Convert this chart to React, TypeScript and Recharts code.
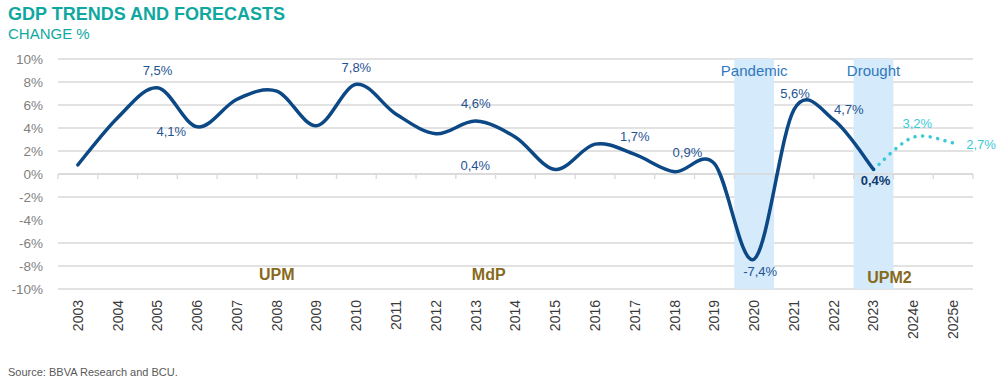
import React from "react";
import {
  LineChart,
  Line,
  XAxis,
  YAxis,
  CartesianGrid,
  ReferenceArea,
  ReferenceLine,
  ReferenceDot,
  LabelList,
} from "recharts";

const YEARS = [
  "2003", "2004", "2005", "2006", "2007", "2008", "2009", "2010", "2011", "2012",
  "2013", "2014", "2015", "2016", "2017", "2018", "2019", "2020", "2021", "2022",
  "2023", "2024e", "2025e",
];
const GDP = [
  0.8, 4.9, 7.5, 4.1, 6.5, 7.2, 4.2, 7.8, 5.2, 3.5,
  4.6, 3.2, 0.4, 2.6, 1.7, 0.2, 0.9, -7.4, 5.6, 4.7,
  0.4, null, null,
];
const FORECAST = [
  null, null, null, null, null, null, null, null, null, null,
  null, null, null, null, null, null, null, null, null, null,
  0.4, 3.2, 2.7,
];
const Y_TICKS = [-10, -8, -6, -4, -2, 0, 2, 4, 6, 8, 10];
const SHADED = [
  { year: "2020", name: "Pandemic" },
  { year: "2023", name: "Drought" },
];
const PERIODS = [
  { year: "2008", name: "UPM", y: -8.7, dx: 0 },
  { year: "2013", name: "MdP", y: -8.7, dx: 13 },
  { year: "2023", name: "UPM2", y: -9.0, dx: 16 },
];

// where each value label sits relative to its point
const LABEL_POS: Record<string, { dx: number; dy: number; bold?: boolean }> = {
  "2005": { dx: 0, dy: -17 },
  "2006": { dx: -26, dy: 5 },
  "2010": { dx: 0, dy: -17 },
  "2013": { dx: 0, dy: -18 },
  "2015": { dx: -80, dy: -4 },
  "2017": { dx: 0, dy: -18 },
  "2019": { dx: -27, dy: -11 },
  "2020": { dx: 6, dy: 12 },
  "2021": { dx: 1, dy: -16 },
  "2022": { dx: 15, dy: -11 },
  "2023": { dx: 2, dy: 11, bold: true },
};
const FC_LABEL_POS: Record<string, { dx: number; dy: number }> = {
  "2024e": { dx: 4, dy: -14 },
  "2025e": { dx: 28, dy: 1 },
};

const data = YEARS.map((year, i) => ({ year, gdp: GDP[i], forecast: FORECAST[i] }));

const NAVY = "#0c4885";
const LABEL_BLUE = "#1f5393";
const AQUA = "#3cc9d6";
const TEAL = "#0fa8a0";
const GOLD = "#876a1c";
const BAND = "#d5eafa";
const GRID = "#d9d9d9";
const FONT = "Arial, 'Liberation Sans', sans-serif";

// excel-like smoothed line (catmull-rom through the points)
const T = 1 / 6;
function excelSmooth(context: any) {
  let pts: number[][] = [];
  return {
    areaStart() {},
    areaEnd() {},
    lineStart() {
      pts = [];
    },
    point(x: number, y: number) {
      pts.push([+x, +y]);
    },
    lineEnd() {
      const n = pts.length;
      if (!n) return;
      context.moveTo(pts[0][0], pts[0][1]);
      for (let i = 0; i < n - 1; i++) {
        const p0 = pts[Math.max(i - 1, 0)];
        const p1 = pts[i];
        const p2 = pts[i + 1];
        const p3 = pts[Math.min(i + 2, n - 1)];
        context.bezierCurveTo(
          p1[0] + (p2[0] - p0[0]) * T,
          p1[1] + (p2[1] - p0[1]) * T,
          p2[0] - (p3[0] - p1[0]) * T,
          p2[1] - (p3[1] - p1[1]) * T,
          p2[0],
          p2[1]
        );
      }
    },
  };
}

const fmt = (v: number) => `${String(v).replace(".", ",")}%`;

const ValueLabel = (props: any) => {
  const { x, y, value, index } = props;
  const pos = LABEL_POS[YEARS[index]];
  if (!pos || value == null) return null;
  return (
    <text
      x={x + pos.dx}
      y={y + pos.dy}
      dy="0.35em"
      textAnchor="middle"
      fontSize={13}
      fontWeight={pos.bold ? 700 : 400}
      fill={pos.bold ? "#0f3a6e" : LABEL_BLUE}
      fontFamily={FONT}
    >
      {fmt(value)}
    </text>
  );
};

const ForecastLabel = (props: any) => {
  const { x, y, value, index } = props;
  const pos = FC_LABEL_POS[YEARS[index]];
  if (!pos || value == null) return null;
  return (
    <text x={x + pos.dx} y={y + pos.dy} dy="0.35em" textAnchor="middle" fontSize={13} fill={AQUA} fontFamily={FONT}>
      {fmt(value)}
    </text>
  );
};

const YearTick = (props: any) => {
  const { x, y, payload } = props;
  return (
    <text
      x={x}
      y={y}
      transform={`rotate(-90 ${x} ${y})`}
      textAnchor="end"
      dy="0.35em"
      fontSize={14}
      fill="#3a3a3a"
      fontFamily={FONT}
    >
      {payload.value}
    </text>
  );
};

// zero line with tick marks at category boundaries
const ZeroAxis = (props: any) => {
  const { x1, x2, y1 } = props;
  const step = (x2 - x1) / YEARS.length;
  return (
    <g>
      <line x1={x1} x2={x2} y1={y1} y2={y1} stroke={GRID} strokeWidth={1.5} />
      {YEARS.map((_, i) => (
        <line key={i} x1={x1 + step * i} x2={x1 + step * i} y1={y1} y2={y1 + 5} stroke={GRID} strokeWidth={1.3} />
      ))}
      <line x1={x2} x2={x2} y1={y1} y2={y1 + 5} stroke={GRID} strokeWidth={1.3} />
    </g>
  );
};

const AnnoLabel = (props: any) => {
  const { viewBox, text, color, size, bold, dx = 0 } = props;
  if (!viewBox) return null;
  return (
    <text
      x={viewBox.x + dx}
      y={viewBox.y}
      dy="0.35em"
      textAnchor="middle"
      fontSize={size}
      fontWeight={bold ? 700 : 400}
      fill={color}
      fontFamily={FONT}
    >
      {text}
    </text>
  );
};

export default function App() {
  return (
    <div style={{ position: "absolute", left: 0, top: 0, width: 1000, height: 382, background: "#fff", fontFamily: FONT }}>
      <div style={{ position: "absolute", left: 8, top: 5, fontSize: 18, lineHeight: "18px", fontWeight: 700, color: TEAL }}>
        GDP TRENDS AND FORECASTS
      </div>
      <div style={{ position: "absolute", left: 8, top: 26, fontSize: 15, lineHeight: "15px", color: TEAL }}>
        CHANGE %
      </div>
      <div style={{ position: "absolute", left: 8, top: 367, fontSize: 11, lineHeight: "11px", color: "#595959" }}>
        Source: BBVA Research and BCU.
      </div>
      <div style={{ position: "absolute", left: 0, top: 0 }}>
        <LineChart width={1000} height={382} data={data} margin={{ top: 59, right: 27, bottom: 33, left: 0 }}>
          <CartesianGrid vertical={false} stroke={GRID} strokeWidth={1.3} />
          {SHADED.map((s) => (
            <ReferenceArea key={s.year} x1={s.year} x2={s.year} fill={BAND} fillOpacity={1} stroke="none" />
          ))}
          <XAxis
            dataKey="year"
            scale="band"
            interval={0}
            tickLine={false}
            axisLine={false}
            tickSize={0}
            tickMargin={11}
            height={60}
            tick={<YearTick />}
          />
          <YAxis
            domain={[-10, 10]}
            ticks={Y_TICKS}
            tickFormatter={(v) => `${v}%`}
            tickLine={false}
            axisLine={false}
            tickSize={0}
            tickMargin={15}
            width={58}
            tick={{ fill: "#7f7f7f", fontSize: 13.5, fontFamily: FONT }}
          />
          <ReferenceLine y={0} shape={<ZeroAxis />} />
          {SHADED.map((s) => (
            <ReferenceDot
              key={"l" + s.year}
              x={s.year}
              y={8.95}
              r={0}
              fill="none"
              stroke="none"
              label={<AnnoLabel text={s.name} color="#2f78bd" size={15} />}
            />
          ))}
          {PERIODS.map((p) => (
            <ReferenceDot
              key={"p" + p.name}
              x={p.year}
              y={p.y}
              r={0}
              fill="none"
              stroke="none"
              label={<AnnoLabel text={p.name} color={GOLD} size={16} bold dx={p.dx} />}
            />
          ))}
          <Line
            dataKey="forecast"
            type={excelSmooth as any}
            stroke={AQUA}
            strokeWidth={3.5}
            strokeDasharray="0.1 7.5"
            strokeLinecap="round"
            dot={false}
            activeDot={false}
            isAnimationActive={false}
          >
            <LabelList dataKey="forecast" content={<ForecastLabel />} />
          </Line>
          <Line
            dataKey="gdp"
            type={excelSmooth as any}
            stroke={NAVY}
            strokeWidth={3.5}
            strokeLinecap="round"
            dot={false}
            activeDot={false}
            isAnimationActive={false}
          >
            <LabelList dataKey="gdp" content={<ValueLabel />} />
          </Line>
        </LineChart>
      </div>
    </div>
  );
}
